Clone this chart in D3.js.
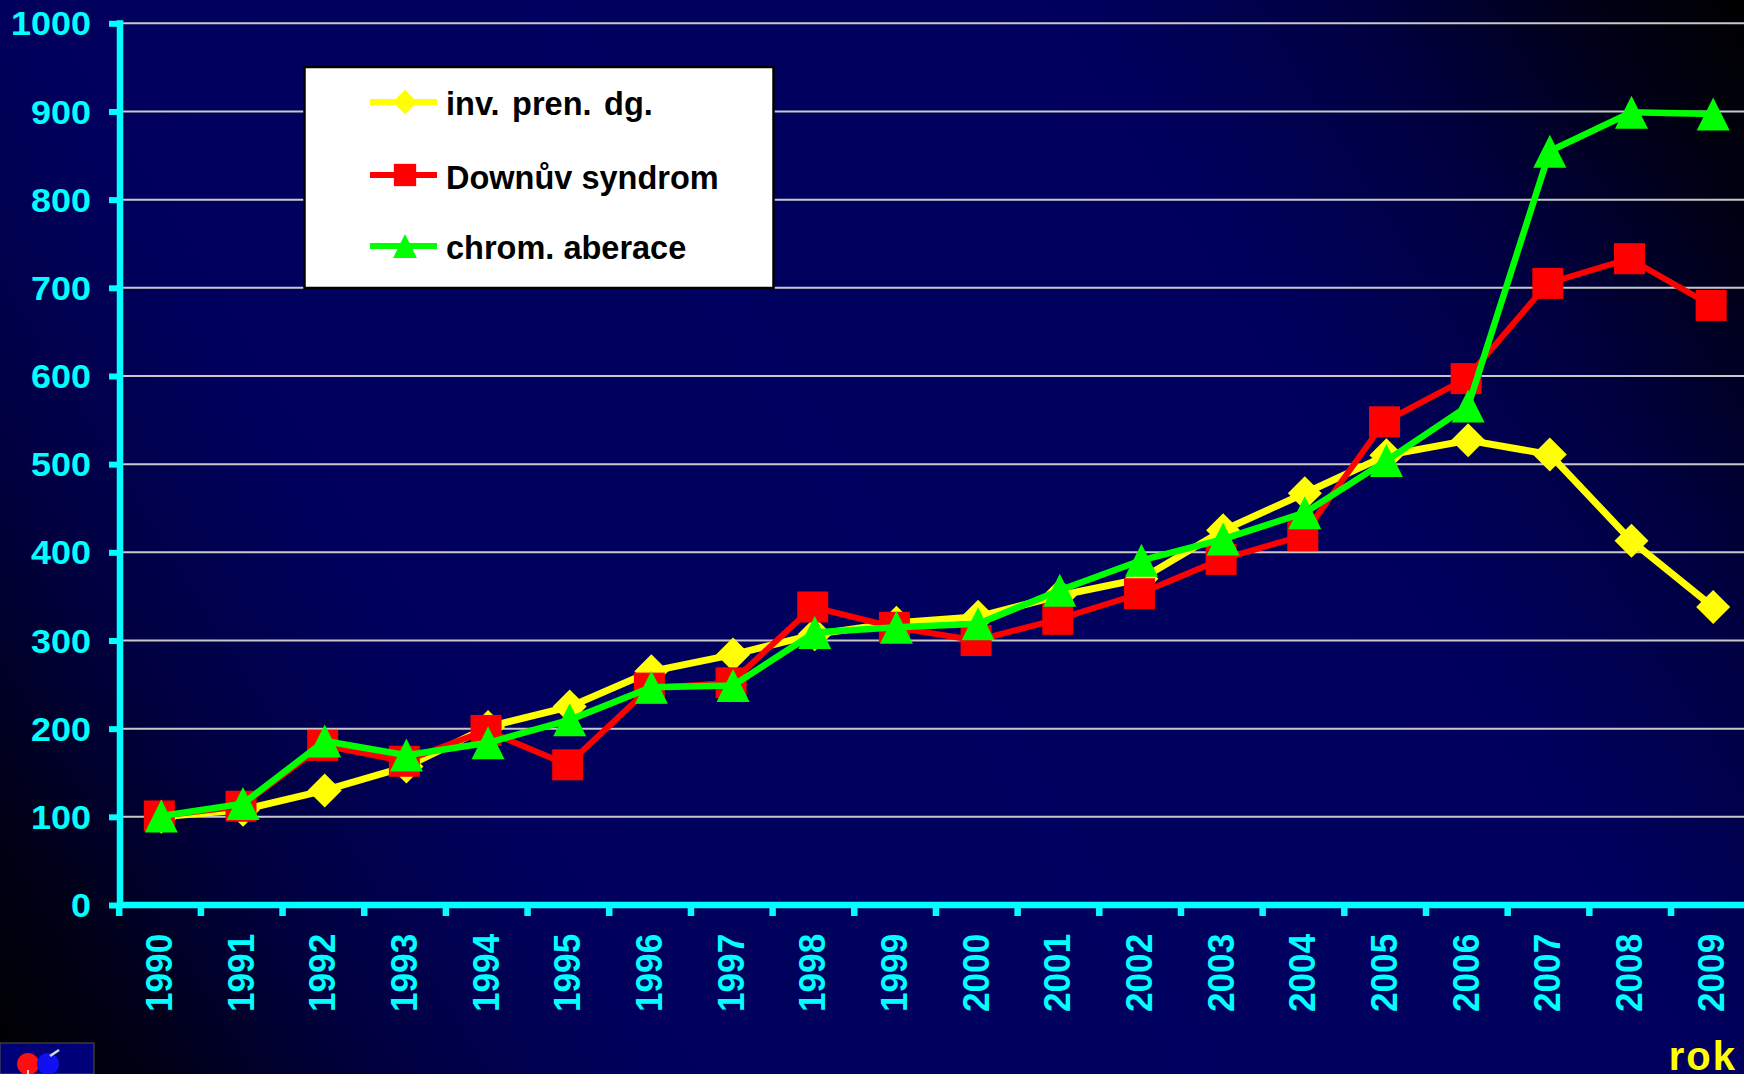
<!DOCTYPE html>
<html><head><meta charset="utf-8">
<script src="https://cdnjs.cloudflare.com/ajax/libs/d3/7.8.5/d3.min.js"></script>
<style>html,body{margin:0;padding:0;background:#000040;overflow:hidden}svg{display:block}text{font-family:"Liberation Sans",Arial,sans-serif;font-weight:bold}</style>
</head><body><svg id="c" width="1744" height="1074"></svg>
<script>
const years=[1990,1991,1992,1993,1994,1995,1996,1997,1998,1999,2000,2001,2002,2003,2004,2005,2006,2007,2008,2009];
const invPren=[100,108,130,157,202,225,265,284,307,320,327,351,370,425,467,510,527,511,413,338];
const down=[101,112,181,163,198,159,246,252,338,315,300,324,353,392,419,548,597,705,733,680];
const chrom=[101,115,186,170,184,210,247,249,309,315,319,357,391,415,445,504,566,855,899,897];
const yTicks=[0,100,200,300,400,500,600,700,800,900,1000];
const seriesNames=["inv. pren. dg.","Downův syndrom","chrom. aberace"];
const xLabel="rok";

const W=1744,H=1074;
const svg=d3.select("#c");
const defs=svg.append("defs");
const g=defs.append("linearGradient").attr("id","bg").attr("gradientUnits","userSpaceOnUse")
 .attr("x1",0).attr("y1",1074).attr("x2",1744).attr("y2",0);
[[0,"#000000"],[0.07,"#000018"],[0.16,"#000040"],[0.27,"#00005c"],[0.5,"#000060"],[0.73,"#00005c"],[0.84,"#000040"],[0.93,"#000018"],[1,"#000000"]]
 .forEach(d=>g.append("stop").attr("offset",d[0]).attr("stop-color",d[1]));
svg.append("rect").attr("width",W).attr("height",H).attr("fill","url(#bg)");

const x=d3.scaleBand().domain(years).range([118.5,1752]);
const y=d3.scaleLinear().domain([0,1000]).range([905,23.3]);
const cx=d=>x(d)+x.bandwidth()/2;

// grid
svg.append("g").selectAll("line").data(yTicks.slice(1)).join("line")
 .attr("x1",120).attr("x2",W).attr("y1",d=>y(d)).attr("y2",d=>y(d))
 .attr("stroke","#c8c8c8").attr("stroke-width",2);

// axes
const gy=svg.append("g").attr("transform","translate(120,0)")
 .call(d3.axisLeft(y).tickValues(yTicks).tickSize(11).tickPadding(20).tickFormat(d3.format("d")));
gy.selectAll(".tick line").attr("stroke","#00ffff").attr("stroke-width",6);
gy.select(".domain").attr("d",`M0,${y(1000)-3}V${y(0)+3}`).attr("stroke","#00ffff").attr("stroke-width",6.5).attr("fill","none");
gy.selectAll("text").attr("fill","#00ffff").attr("font-size",33).attr("font-family",'"Liberation Sans"').attr("font-weight","bold")
 .attr("x",0).attr("transform","translate(-29,1) scale(1.09,1)");

const gx=svg.append("g").attr("transform",`translate(0,${y(0)})`)
 .call(d3.axisBottom(x).tickSize(0).tickPadding(0));
gx.select(".domain").attr("d",`M120,0H${W}`).attr("stroke","#00ffff").attr("stroke-width",6.5).attr("fill","none");
gx.selectAll(".tick").remove();
svg.append("g").selectAll("line").data(years).join("line")
 .attr("x1",d=>x(d)+0.7).attr("x2",d=>x(d)+0.7).attr("y1",y(0)).attr("y2",916)
 .attr("stroke","#00ffff").attr("stroke-width",6.5);
svg.append("g").selectAll("text").data(years).join("text")
 .attr("transform",d=>`translate(${cx(d)+12.5},1012) rotate(-90) scale(0.95,1)`)
 .attr("fill","#00ffff").attr("font-size",37).text(d=>d);

// series
const colors=["#ffff00","#ff0000","#00ff00"];
const widths=[7,6,6.5];
const dxs=[2,0,2];
const sqS=31, diaW=34, triW=33;
const markers=[
 (s,k)=>s.append("path").attr("d",`M0,${-k*diaW/2}L${k*diaW/2},0L0,${k*diaW/2}L${-k*diaW/2},0Z`),
 (s,k)=>s.append("rect").attr("x",-k*sqS/2).attr("y",-k*sqS/2).attr("width",k*sqS).attr("height",k*sqS),
 (s,k)=>s.append("path").attr("d",`M0,${-k*triW/2}L${k*triW/2},${k*triW/2}L${-k*triW/2},${k*triW/2}Z`)
];
[invPren,down,chrom].forEach((vals,i)=>{
 const line=d3.line().x((d,j)=>cx(years[j])+dxs[i]).y(d=>y(d));
 svg.append("path").attr("d",line(vals)).attr("fill","none").attr("stroke",colors[i]).attr("stroke-width",widths[i]).attr("stroke-linejoin","miter");
 vals.forEach((v,j)=>{
  const m=svg.append("g").attr("transform",`translate(${cx(years[j])+dxs[i]},${y(v)})`).attr("fill",colors[i]);
  markers[i](m,1);
 });
});

// legend
svg.append("rect").attr("x",304.5).attr("y",67).attr("width",469).attr("height",221)
 .attr("fill","#fff").attr("stroke","#000").attr("stroke-width",2.5);
const legY=[102,175,246], baseY=[115,189,259], wordGap=[3.5,0,0];
seriesNames.forEach((n,i)=>{
 svg.append("line").attr("x1",370).attr("x2",437).attr("y1",legY[i]).attr("y2",legY[i]).attr("stroke",colors[i]).attr("stroke-width",6);
 const m=svg.append("g").attr("transform",`translate(405,${legY[i]})`).attr("fill",colors[i]);
 markers[i](m,0.72);
 svg.append("text").attr("x",446).attr("y",baseY[i]).attr("font-size",32.5).attr("word-spacing",wordGap[i]).attr("fill","#000").text(n);
});

// x title
svg.append("text").attr("x",1737).attr("y",1070).attr("text-anchor","end").attr("font-size",40).attr("letter-spacing",2).attr("fill","#ffff00").text(xLabel);

// logo
const logo=svg.append("g");
logo.append("rect").attr("x",0).attr("y",1043).attr("width",94).attr("height",31).attr("fill","#000078").attr("stroke","#55554a").attr("stroke-width",1);
logo.append("circle").attr("cx",28).attr("cy",1064).attr("r",11).attr("fill","#ff1010");
logo.append("circle").attr("cx",48).attr("cy",1064).attr("r",11).attr("fill","#1010f0");
logo.append("line").attr("x1",50).attr("y1",1056).attr("x2",59).attr("y2",1050).attr("stroke","#d8d8e8").attr("stroke-width",2.5);
logo.append("line").attr("x1",28).attr("y1",1070).attr("x2",28).attr("y2",1074).attr("stroke","#f0d0d0").attr("stroke-width",2);
</script></body></html>
